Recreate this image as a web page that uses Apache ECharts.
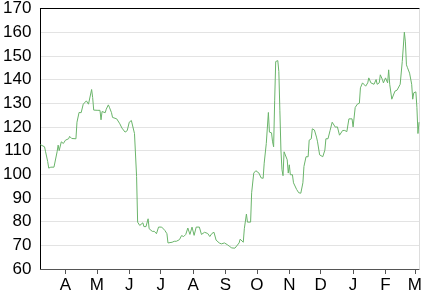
<!DOCTYPE html>
<html><head><meta charset="utf-8">
<script src="https://cdn.jsdelivr.net/npm/echarts@6/dist/echarts.min.js"></script>
<style>html,body{margin:0;padding:0;background:#fff}#c{width:433px;height:294px}</style>
</head><body><div id="c"></div>
<script>
const startDate = '2010-03-08';
const dayOffsets = [0,4,5,7,8,10,13,16,17,18,20,22,24,27,28,30,34,35,37,39,41,42,44,46,47,49,50,51,55,57,58,59,62,63,65,66,68,69,73,74,76,78,81,83,85,87,88,90,91,92,93,95,96,98,99,101,103,104,107,109,111,113,116,119,121,122,126,128,130,133,135,137,139,141,143,145,147,149,152,154,157,160,162,164,166,168,171,173,176,179,181,183,186,187,190,191,194,195,197,198,201,202,204,206,209,211,213,214,216,218,219,221,222,223,224,225,227,228,229,230,231,232,233,234,236,237,238,239,241,242,245,247,249,251,252,254,256,257,259,260,262,264,265,267,270,271,272,273,275,277,279,282,284,286,287,289,291,293,295,298,299,301,303,305,306,308,309,311,313,314,316,317,319,321,322,324,325,327,328,330,332,333,334,336,337,339,341,342,344,345,346,348,349,350,351,353,355,356,357,359,360,361,362];
const prices = [112.5,111.6,109.5,105.4,102.6,103.0,103,109.5,112.3,110,113.7,113,114.4,115,116,115.1,115,122,126.1,126,129.6,129,131,129.6,130,135.8,132.4,127.1,127,127,123,126.5,126,127.5,129.3,128.3,126,124,123.4,123.4,121.3,119.5,117.8,118.4,122,122.7,122.4,117.2,116.5,99.1,79.8,78.4,78.5,79.5,77.9,77.9,81.2,77,75.9,75.9,74.9,77.7,77.7,76.3,74.9,71,71.3,71.7,71.7,72.4,74.1,73.7,74.6,77.3,74.6,77.7,74.2,77.7,77.7,74.6,75.5,75,73.7,75,75.5,72.2,71,70.6,71,70.2,69.5,68.9,68.8,69.5,71,72.6,71.3,77,83.2,79.8,79.8,92.2,100.5,101.5,100.5,98.5,98.3,104.7,113,126.1,117.8,117.5,113.7,111.6,131,147.6,148,143.4,126.8,110.2,101.9,99.4,109.5,110.2,106.1,100.5,104,99.8,99.8,96.4,93.6,92.2,92,96.4,103.3,107.4,107.4,114.4,115,119.2,118.7,115.7,113.7,108.2,107.4,107.4,110.2,115,115,118.5,122,119.9,120,116.5,117,118.5,118.5,118,123.4,123.4,120,128.2,129.6,130,136.5,138.6,138,137.2,138.6,140.7,138.6,139.3,138,140,138,138.6,142,140,138.6,140.7,138.6,144.1,138,131.7,131,135.1,135.5,135.1,138,138,147.6,160,155.9,146.2,145,142.7,138,131.7,134.4,134.8,128.2,117.2,122];
const monthTicks = ['2010-04-01','2010-05-01','2010-06-01','2010-07-01','2010-08-01','2010-09-01','2010-10-01','2010-11-01','2010-12-01','2011-01-01','2011-02-01','2011-03-01'];
const monthLetters = ['J','F','M','A','M','J','J','A','S','O','N','D'];
const yTicks = [60,70,80,90,100,110,120,130,140,150,160,170];

function toTime(s, add) {
  const p = s.split('-').map(Number);
  return new Date(p[0], p[1] - 1, p[2] + (add || 0)).getTime();
}
const data = dayOffsets.map((d, i) => [toTime(startDate, d), prices[i]]);
const tMin = data[0][0], tMax = data[data.length - 1][0];
const tickTimes = monthTicks.map(s => toTime(s));
const font = 'Liberation Sans, Arial, Helvetica, sans-serif';

const chart = echarts.init(document.getElementById('c'));
chart.setOption({
  animation: false,
  grid: { left: 38, right: 14, top: 6, bottom: 23 },
  xAxis: [{
    type: 'value', min: tMin, max: tMax,
    axisLine: { lineStyle: { color: '#555', width: 1 } },
    axisTick: { show: true, length: 5, lineStyle: { color: '#555' }, customValues: tickTimes },
    axisLabel: { customValues: tickTimes, color: '#000', fontSize: 17, fontFamily: font, margin: 8,
      formatter: v => monthLetters[new Date(v).getMonth()] },
    splitLine: { show: false }
  }, {
    type: 'value', min: tMin, max: tMax, position: 'top',
    axisLine: { show: true, lineStyle: { color: '#000', width: 1 } },
    axisTick: { show: false }, axisLabel: { show: false }, splitLine: { show: false }
  }],
  yAxis: [{
    type: 'value', min: yTicks[0], max: yTicks[yTicks.length - 1], interval: 10,
    axisLine: { show: true, lineStyle: { color: '#000', width: 1 } },
    axisTick: { show: false },
    axisLabel: { color: '#000', fontSize: 17, fontFamily: font, margin: 9 },
    splitLine: { show: true, lineStyle: { color: '#e3e3e3', width: 1 } }
  }, {
    type: 'value', min: yTicks[0], max: yTicks[yTicks.length - 1], interval: 10, position: 'right',
    axisLine: { show: true, lineStyle: { color: '#dddddd', width: 1 } },
    axisTick: { show: false }, axisLabel: { show: false }, splitLine: { show: false }
  }],
  series: [{
    type: 'line', data: data, showSymbol: false, symbol: 'none',
    lineStyle: { color: '#6ab46a', width: 1 }
  }]
});
</script></body></html>
